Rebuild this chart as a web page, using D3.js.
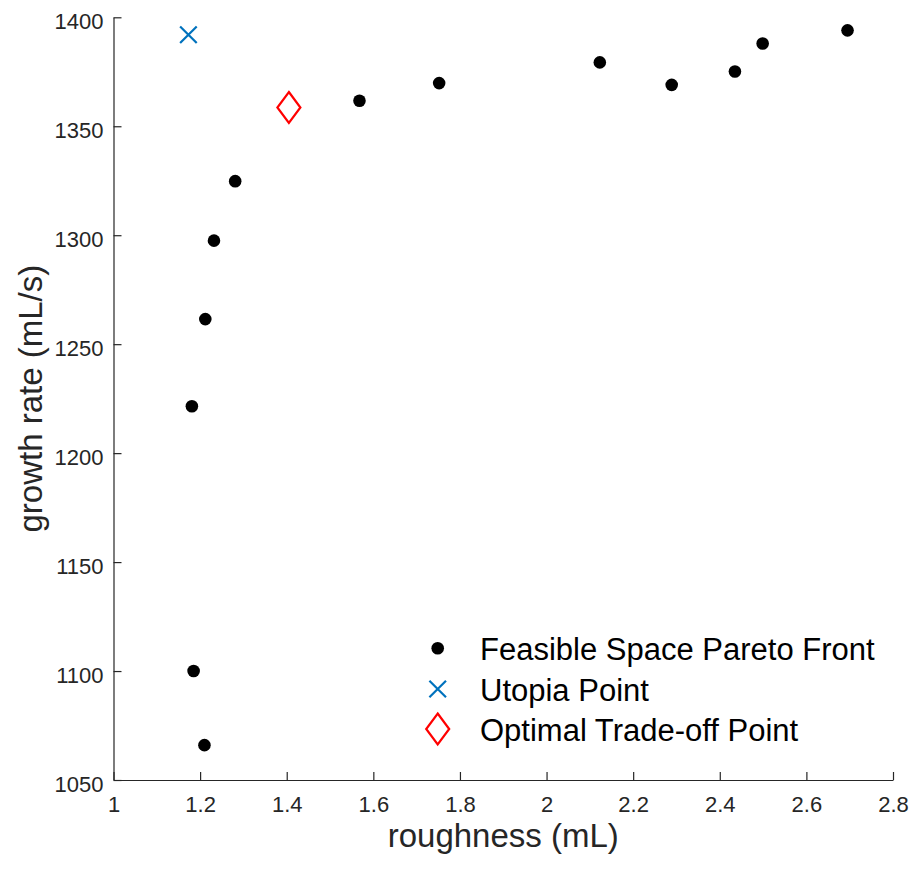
<!DOCTYPE html>
<html>
<head>
<meta charset="utf-8">
<script src="https://cdn.jsdelivr.net/npm/d3@7"></script>
<style>
  html, body { margin: 0; padding: 0; background: #fff; }
  svg { display: block; font-family: "Liberation Sans", Arial, Helvetica, sans-serif; }
</style>
</head>
<body>
<svg id="chart" width="914" height="872"></svg>
<script>
// Pareto front samples: roughness (mL) vs growth rate (mL/s)
const paretoRoughness = [1.210, 1.185, 1.181, 1.212, 1.232, 1.281, 1.568, 1.752, 2.123, 2.289, 2.435, 2.499, 2.695];
const paretoGrowth    = [1066, 1100, 1221.5, 1261.5, 1297.5, 1324.8, 1361.7, 1369.8, 1379.3, 1369.0, 1375.1, 1388.0, 1394.0];

const utopiaRoughness = [1.173];
const utopiaGrowth    = [1392];

const optimalRoughness = [1.405];
const optimalGrowth    = [1358.6];

const xTicks = [1, 1.2, 1.4, 1.6, 1.8, 2, 2.2, 2.4, 2.6, 2.8];
const yTicks = [1050, 1100, 1150, 1200, 1250, 1300, 1350, 1400];

const legendLabels = ["Feasible Space Pareto Front", "Utopia Point", "Optimal Trade-off Point"];

const W = 914, H = 872;
const margin = { top: 17.3, right: 21, bottom: 92, left: 113.5 };
const svg = d3.select("#chart");

const x = d3.scaleLinear().domain([1, 2.8]).range([margin.left, W - margin.right]);
const y = d3.scaleLinear().domain([1050, 1400]).range([H - margin.bottom, margin.top]);

const axisColor = "#262626";

// Axes (left and bottom only, ticks pointing inward)
const xAxis = svg.append("g")
  .attr("transform", `translate(0,${y(1050)})`)
  .call(d3.axisBottom(x).tickValues(xTicks).tickFormat(d3.format("~g")).tickSizeInner(-8).tickSizeOuter(0).tickPadding(16));
const yAxis = svg.append("g")
  .attr("transform", `translate(${x(1)},0)`)
  .call(d3.axisLeft(y).tickValues(yTicks).tickFormat(d3.format("d")).tickSizeInner(-8).tickSizeOuter(0).tickPadding(10));

[xAxis, yAxis].forEach(g => {
  g.select(".domain").attr("stroke", axisColor).attr("stroke-width", 1.2);
  g.selectAll(".tick line").attr("stroke", axisColor).attr("stroke-width", 1.2);
  g.selectAll(".tick text").attr("fill", axisColor).attr("font-size", 22)
    .attr("font-family", "'Liberation Sans', Arial, sans-serif");
});
xAxis.selectAll(".tick text").attr("dy", "0.71em");
yAxis.selectAll(".tick text").attr("dy", "0.5em");

// Axis titles
svg.append("text")
  .attr("x", (x(1) + x(2.8)) / 2).attr("y", 847)
  .attr("text-anchor", "middle").attr("font-size", 33).attr("fill", axisColor)
  .text("roughness (mL)");
svg.append("text")
  .attr("transform", `translate(42,${(y(1050) + y(1400)) / 2}) rotate(-90)`)
  .attr("text-anchor", "middle").attr("font-size", 33).attr("fill", axisColor)
  .text("growth rate (mL/s)");

// Marker shapes
const crossPath = (cx, cy, s) => `M${cx - s},${cy - s}L${cx + s},${cy + s}M${cx - s},${cy + s}L${cx + s},${cy - s}`;
const diamondPath = (cx, cy, w, h) => `M${cx},${cy - h}L${cx + w},${cy}L${cx},${cy + h}L${cx - w},${cy}Z`;

// Pareto front points
svg.append("g").selectAll("circle")
  .data(d3.zip(paretoRoughness, paretoGrowth))
  .join("circle")
  .attr("cx", d => x(d[0])).attr("cy", d => y(d[1]))
  .attr("r", 6.3).attr("fill", "#000");

// Utopia point
svg.append("g").selectAll("path")
  .data(d3.zip(utopiaRoughness, utopiaGrowth))
  .join("path")
  .attr("d", d => crossPath(x(d[0]), y(d[1]), 8.3))
  .attr("stroke", "#0072BD").attr("stroke-width", 2.2).attr("fill", "none");

// Optimal trade-off point
svg.append("g").selectAll("path")
  .data(d3.zip(optimalRoughness, optimalGrowth))
  .join("path")
  .attr("d", d => diamondPath(x(d[0]), y(d[1]), 11.5, 15.5))
  .attr("stroke", "#FF0000").attr("stroke-width", 2.2).attr("fill", "none");

// Legend
const legend = svg.append("g");
const lx = 437.7, rows = [648.3, 689, 729];
legend.append("circle").attr("cx", lx).attr("cy", rows[0]).attr("r", 6.3).attr("fill", "#000");
legend.append("path").attr("d", crossPath(lx, rows[1], 8.3))
  .attr("stroke", "#0072BD").attr("stroke-width", 2.2).attr("fill", "none");
legend.append("path").attr("d", diamondPath(lx, rows[2], 11.5, 15.5))
  .attr("stroke", "#FF0000").attr("stroke-width", 2.2).attr("fill", "none");
legend.selectAll("text.lab")
  .data(legendLabels)
  .join("text")
  .attr("class", "lab")
  .attr("x", 480).attr("y", (d, i) => rows[i] + 12)
  .attr("font-size", 31).attr("fill", "#000")
  .text(d => d);
</script>
</body>
</html>
